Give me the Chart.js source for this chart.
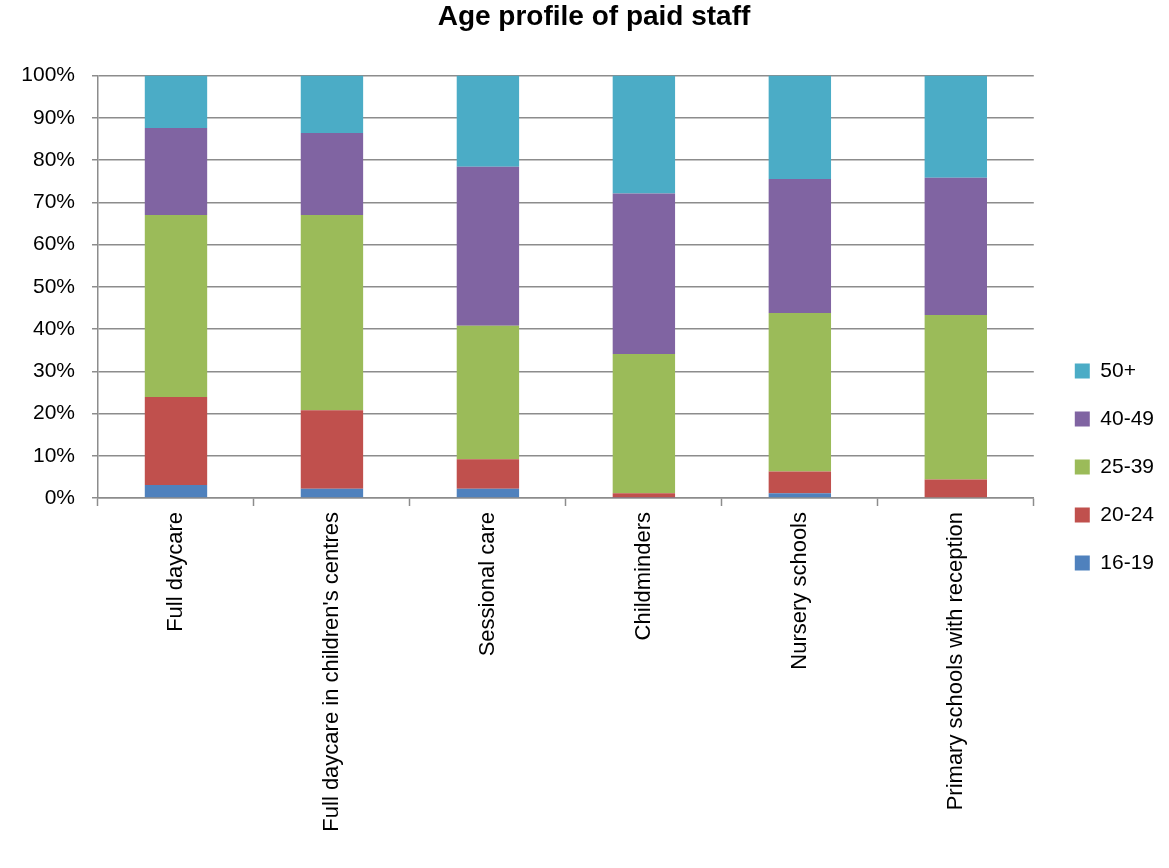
<!DOCTYPE html>
<html>
<head>
<meta charset="utf-8">
<script src="https://cdn.jsdelivr.net/npm/chart.js@4.4.1/dist/chart.umd.min.js"></script>
<style>
  html, body { margin: 0; padding: 0; background: #fff; }
  #wrap { width: 1169px; height: 868px; }
</style>
</head>
<body>
<div id="wrap"><canvas id="chart"></canvas></div>
<script>
const settings = [
    "Full daycare",
    "Full daycare in children's centres",
    "Sessional care",
    "Childminders",
    "Nursery schools",
    "Primary schools with reception",
];

// percentage of paid staff in each age band
const age16to19 = [3.1, 2.2, 2.2, 0.1, 1.1, 0.0];
const age20to24 = [20.8, 18.6, 7.0, 1.0, 5.2, 4.4];
const age25to39 = [43.1, 46.2, 31.6, 33.0, 37.5, 38.9];
const age40to49 = [20.6, 19.4, 37.6, 38.0, 31.7, 32.5];
const age50plus = [12.4, 13.6, 21.6, 27.9, 24.5, 24.2];

const bandLabels = ["16-19", "20-24", "25-39", "40-49", "50+"];
const bandColours = ["#4F81BD", "#C0504D", "#9BBB59", "#8064A2", "#4BACC6"];

const yTicks = [0, 10, 20, 30, 40, 50, 60, 70, 80, 90, 100];

const font = "'Liberation Sans', Arial, sans-serif";
const gridColour = "#8c8c8c";

const series = [age16to19, age20to24, age25to39, age40to49, age50plus];

// legend is made a bit wider, then its keys are slid right so there is a
// bigger gap after the plot; the title is nudged right as well
const nudgeBoxes = {
    id: "nudgeBoxes",
    afterInit: (chart) => {
        const legend = chart.legend;
        const fit = legend.fit;
        legend.fit = function () {
            fit.call(this);
            this.width += 14;
        };
    },
    afterLayout: (chart) => {
        chart.legend.left += 14;
        chart.legend.right += 14;
        chart.titleBlock.left += 12;
        chart.titleBlock.right += 12;
    },
};

const ctx = document.getElementById("chart").getContext("2d");

let myChart = new Chart(ctx, {
    type: "bar",
    data: {
        labels: settings,
        datasets: series.map((values, i) => ({
            label: bandLabels[i],
            data: values,
            backgroundColor: bandColours[i],
            borderWidth: 0,
            categoryPercentage: 1.0,
            barPercentage: 0.4,
        })),
    },
    plugins: [nudgeBoxes],
    options: {
        responsive: true,
        maintainAspectRatio: false,
        animation: false,
        layout: {
            padding: { left: 0, right: 5, top: 0, bottom: 0 },
        },
        plugins: {
            title: {
                display: true,
                text: "Age profile of paid staff",
                color: "#000",
                font: { family: font, size: 28, weight: "bold" },
                padding: { top: 0, bottom: 42 },
            },
            legend: {
                position: "right",
                reverse: true,
                title: {
                    // blank title pushes the keys further down
                    display: true,
                    text: " ",
                    font: { size: 10 },
                    padding: { top: 27, bottom: 27 },
                },
                labels: {
                    color: "#000",
                    font: { family: font, size: 21 },
                    boxWidth: 15,
                    boxHeight: 15,
                    padding: 27,
                },
            },
            tooltip: { enabled: false },
        },
        scales: {
            x: {
                stacked: true,
                afterFit: (axis) => {
                    axis.height = 370;
                },
                grid: {
                    display: true,
                    drawOnChartArea: false,
                    drawTicks: true,
                    tickLength: 8,
                    tickColor: gridColour,
                    tickWidth: 1.5,
                    offset: true,
                },
                border: { color: gridColour, width: 1.5 },
                ticks: {
                    color: "#000",
                    font: { family: font, size: 22 },
                    minRotation: 90,
                    maxRotation: 90,
                    padding: 6,
                },
            },
            y: {
                stacked: true,
                min: 0,
                max: 100,
                afterBuildTicks: (axis) => {
                    axis.ticks = yTicks.map((v) => ({ value: v }));
                },
                afterFit: (axis) => {
                    axis.width = 98;
                },
                grid: {
                    color: gridColour,
                    lineWidth: 1.5,
                    tickLength: 6,
                },
                border: { color: gridColour, width: 1.5 },
                ticks: {
                    color: "#000",
                    font: { family: font, size: 21 },
                    padding: 17,
                    callback: (v) => v + "%",
                },
            },
        },
    },
});
</script>
</body>
</html>
